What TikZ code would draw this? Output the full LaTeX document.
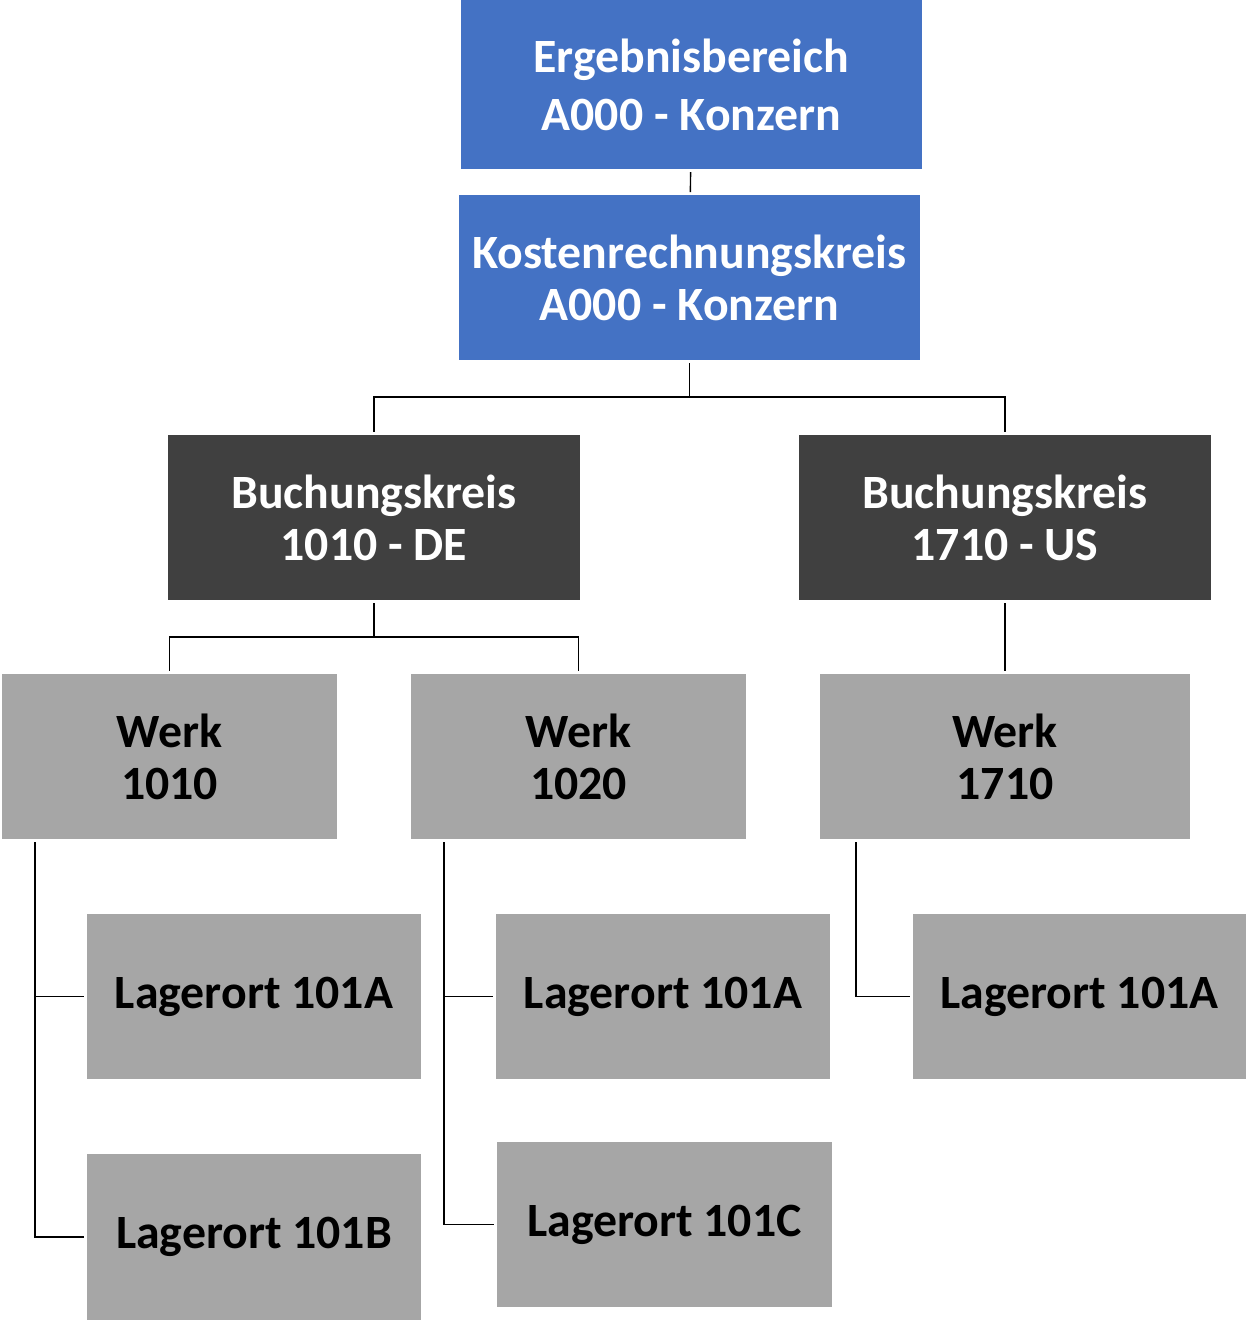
\documentclass[tikz,border=0pt]{standalone}
\usepackage{fontspec}
\setmainfont{Carlito}
\usepackage{tikz}
\usetikzlibrary{positioning}
\usepackage{xcolor}
\definecolor{orgblue}{RGB}{68,114,196}
\definecolor{orgdark}{RGB}{64,64,64}
\definecolor{orggrey}{RGB}{166,166,166}
\tikzstyle{unit} = [rectangle, inner sep=0pt, outer sep=0.06cm, align=center, font=\bfseries\fontsize{27.2}{29.5}\selectfont, minimum height=3.3cm]
\tikzstyle{area} = [unit, fill=orgblue, text=white, minimum width=9.22cm]
\tikzstyle{company} = [unit, fill=orgdark, text=white, minimum width=8.24cm]
\tikzstyle{plant} = [unit, fill=orggrey, text=black, minimum width=6.7cm]
\tikzstyle{storage} = [unit, fill=orggrey, text=black, minimum width=6.68cm]
\tikzstyle{link} = [line width=0.8pt, color=black]

\begin{document}
\begin{tikzpicture}
\useasboundingbox (0,0) rectangle (24.92,-26.4);
% Controlling
\node (erg) [area, minimum height=3.38cm, font=\bfseries\fontsize{27.2}{33}\selectfont] at (13.83,-1.69) {Ergebnisbereich\\A000 - Konzern};
\node (kost) [area, below of=erg, node distance=3.86cm, xshift=-0.04cm] {Kostenrechnungskreis\\A000 - Konzern};

% Company codes
\node (bkde) [company, below of=kost, node distance=4.8cm, xshift=-6.31cm] {Buchungskreis\\1010 - DE};
\node (bkus) [company, right of=bkde, node distance=12.62cm] {Buchungskreis\\1710 - US};

% Plants
\node (w1010) [plant, below of=bkde, node distance=4.78cm, xshift=-4.09cm] {Werk\\1010};
\node (w1020) [plant, right of=w1010, node distance=8.18cm] {Werk\\1020};
\node (w1710) [plant, below of=bkus, node distance=4.78cm, minimum width=7.4cm] {Werk\\1710};

% Storage locations
\node (l1a) [storage, below of=w1010, node distance=4.8cm, xshift=1.69cm] {Lagerort 101A};
\node (l1b) [storage, below of=l1a, node distance=4.81cm, minimum height=3.32cm] {Lagerort 101B};
\node (l2a) [storage, right of=l1a, node distance=8.18cm] {Lagerort 101A};
\node (l2c) [storage, below of=l2a, node distance=4.56cm, xshift=0.03cm, minimum width=6.7cm] {Lagerort 101C};
\node (l3a) [storage, right of=l2a, node distance=8.33cm, minimum width=6.66cm] {Lagerort 101A};

% Connectors
\draw[link] (erg) -- (kost);
\draw[link] (kost.south) -- ++(0,-0.68) -| (bkde.north);
\draw[link] (kost.south) -- ++(0,-0.68) -| (bkus.north);
\draw[link] (bkde.south) -- ++(0,-0.68) -| (w1010.north);
\draw[link] (bkde.south) -- ++(0,-0.68) -| (w1020.north);
\draw[link] (bkus) -- (w1710);
\draw[link] ([xshift=0.72cm]w1010.south west) |- (l1a.west);
\draw[link] ([xshift=0.72cm]w1010.south west) |- (l1b.west);
\draw[link] ([xshift=0.72cm]w1020.south west) |- (l2a.west);
\draw[link] ([xshift=0.72cm]w1020.south west) |- (l2c.west);
\draw[link] ([xshift=0.78cm]w1710.south west) |- (l3a.west);
\end{tikzpicture}
\end{document}
